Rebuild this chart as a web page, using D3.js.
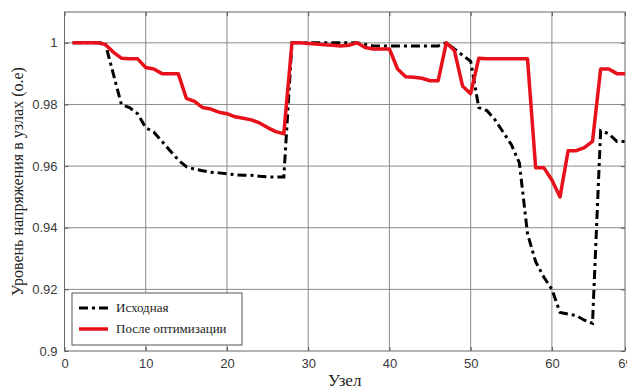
<!DOCTYPE html>
<html><head><meta charset="utf-8">
<script src="https://cdn.jsdelivr.net/npm/d3@7"></script>
<style>body{margin:0;background:#fff}svg{display:block}</style>
</head><body>
<svg id="c" width="627" height="388"></svg>
<script>
const nodes = d3.range(1, 70);
const initialV = [1.0,1.0,1.0,1.0,1.0,0.990,0.980,0.979,0.977,0.9725,
  0.971,0.968,0.965,0.962,0.9598,0.959,0.9585,0.958,0.9578,0.9575,
  0.9572,0.957,0.957,0.9567,0.9565,0.9565,0.9565,1.0,1.0,1.0,
  1.0,1.0,1.0,1.0,1.0,1.0,0.9995,0.999,0.999,0.999,
  0.999,0.999,0.999,0.999,0.999,0.999,1.0,0.998,0.996,0.994,
  0.979,0.978,0.975,0.971,0.967,0.961,0.938,0.929,0.924,0.920,
  0.9125,0.912,0.9115,0.910,0.909,0.9715,0.9705,0.968,0.968];
const optimizedV = [1.0,1.0,1.0,1.0,0.9995,0.997,0.995,0.9948,0.9948,0.992,
  0.9915,0.990,0.990,0.990,0.982,0.981,0.979,0.9785,0.9775,0.977,
  0.976,0.9755,0.975,0.974,0.9725,0.9712,0.9705,1.0,1.0,0.9998,
  0.9996,0.9994,0.9992,0.999,0.9992,1.0,0.9985,0.998,0.998,0.998,
  0.9915,0.989,0.9888,0.9885,0.9877,0.9877,1.0,0.9975,0.986,0.9835,
  0.995,0.9948,0.9948,0.9948,0.9948,0.9948,0.9948,0.9595,0.9595,0.9555,
  0.950,0.965,0.965,0.966,0.968,0.9915,0.9915,0.990,0.990];
const xTicks = [0,10,20,30,40,50,60,69];
const yTicks = [0.9,0.92,0.94,0.96,0.98,1.0];
const yTickLabels = ["0.9","0.92","0.94","0.96","0.98","1"];
const seriesNames = ["Исходная","После оптимизации"];
const xTitle = "Узел";
const yTitle = "Уровень напряжения в узлах (о.е)";

const svg = d3.select("#c");
const L = 64.5, R = 625, T = 12, B = 351;
const x = d3.scaleLinear().domain([0,69]).range([L,R]);
const y = d3.scaleLinear().domain([0.9,1.01]).range([B,T]);

// grid
const g = svg.append("g");
g.selectAll(".vx").data(xTicks.slice(1,-1)).join("line")
  .attr("x1",d=>x(d)).attr("x2",d=>x(d)).attr("y1",T).attr("y2",B)
  .attr("stroke","#8a8a8a").attr("stroke-width",1);
g.selectAll(".hy").data(yTicks.slice(1)).join("line")
  .attr("x1",L).attr("x2",R).attr("y1",d=>y(d)).attr("y2",d=>y(d))
  .attr("stroke","#8a8a8a").attr("stroke-width",1);

// axes
const fontSans = "'Liberation Sans', Arial, sans-serif";
const xa = svg.append("g").attr("transform",`translate(0,${B})`)
  .call(d3.axisBottom(x).tickValues(xTicks).tickSize(-4).tickPadding(8).tickFormat(d3.format("d")));
const ya = svg.append("g").attr("transform",`translate(${L},0)`)
  .call(d3.axisLeft(y).tickValues(yTicks).tickSize(-4).tickPadding(7).tickFormat((d,i)=>yTickLabels[i]));
const xt = svg.append("g").attr("transform",`translate(0,${T})`)
  .call(d3.axisTop(x).tickValues(xTicks).tickSize(-4).tickFormat(""));
const yr = svg.append("g").attr("transform",`translate(${R},0)`)
  .call(d3.axisRight(y).tickValues(yTicks).tickSize(-4).tickFormat(""));
[xa,ya,xt,yr].forEach(a=>{
  a.select(".domain").remove();
  a.selectAll("line").attr("stroke","#555");
  a.selectAll("text").attr("font-family",fontSans).attr("font-size",13).attr("fill","#3a3a3a");
});
svg.append("rect").attr("x",L).attr("y",T).attr("width",R-L).attr("height",B-T)
  .attr("fill","none").attr("stroke","#666").attr("stroke-width",1);

// lines
const line = d3.line().x((d,i)=>x(nodes[i])).y(d=>y(d));
svg.append("path").datum(initialV).attr("d",line).attr("fill","none")
  .attr("stroke","#000").attr("stroke-width",3).attr("stroke-dasharray","9,4,3,4");
svg.append("path").datum(optimizedV).attr("d",line).attr("fill","none")
  .attr("stroke","#e8101a").attr("stroke-width",3.5).attr("stroke-linejoin","round");

// titles
const fontSerif = "'Liberation Serif', 'Times New Roman', serif";
svg.append("text").attr("x",(L+R)/2).attr("y",386).attr("text-anchor","middle")
  .attr("font-family",fontSerif).attr("font-size",17).attr("fill","#222").text(xTitle);
svg.append("text").attr("transform",`translate(23,${(T+B)/2}) rotate(-90)`)
  .attr("text-anchor","middle").attr("font-family",fontSerif).attr("font-size",16).attr("fill","#222").text(yTitle);

// legend
const lg = svg.append("g");
lg.append("rect").attr("x",72).attr("y",293).attr("width",170).attr("height",52)
  .attr("fill","#fff").attr("stroke","#555").attr("stroke-width",1);
const items = [{name:seriesNames[0],color:"#000",dash:"9,4,3,4",w:3},{name:seriesNames[1],color:"#e8101a",dash:null,w:3.5}];
items.forEach((it,i)=>{
  const yy = 308 + i*21;
  lg.append("line").attr("x1",79).attr("x2",108).attr("y1",yy).attr("y2",yy)
    .attr("stroke",it.color).attr("stroke-width",it.w).attr("stroke-dasharray",it.dash);
  lg.append("text").attr("x",116).attr("y",yy+4).attr("font-family",fontSerif)
    .attr("font-size",13).attr("fill","#222").text(it.name);
});
</script>
</body></html>
